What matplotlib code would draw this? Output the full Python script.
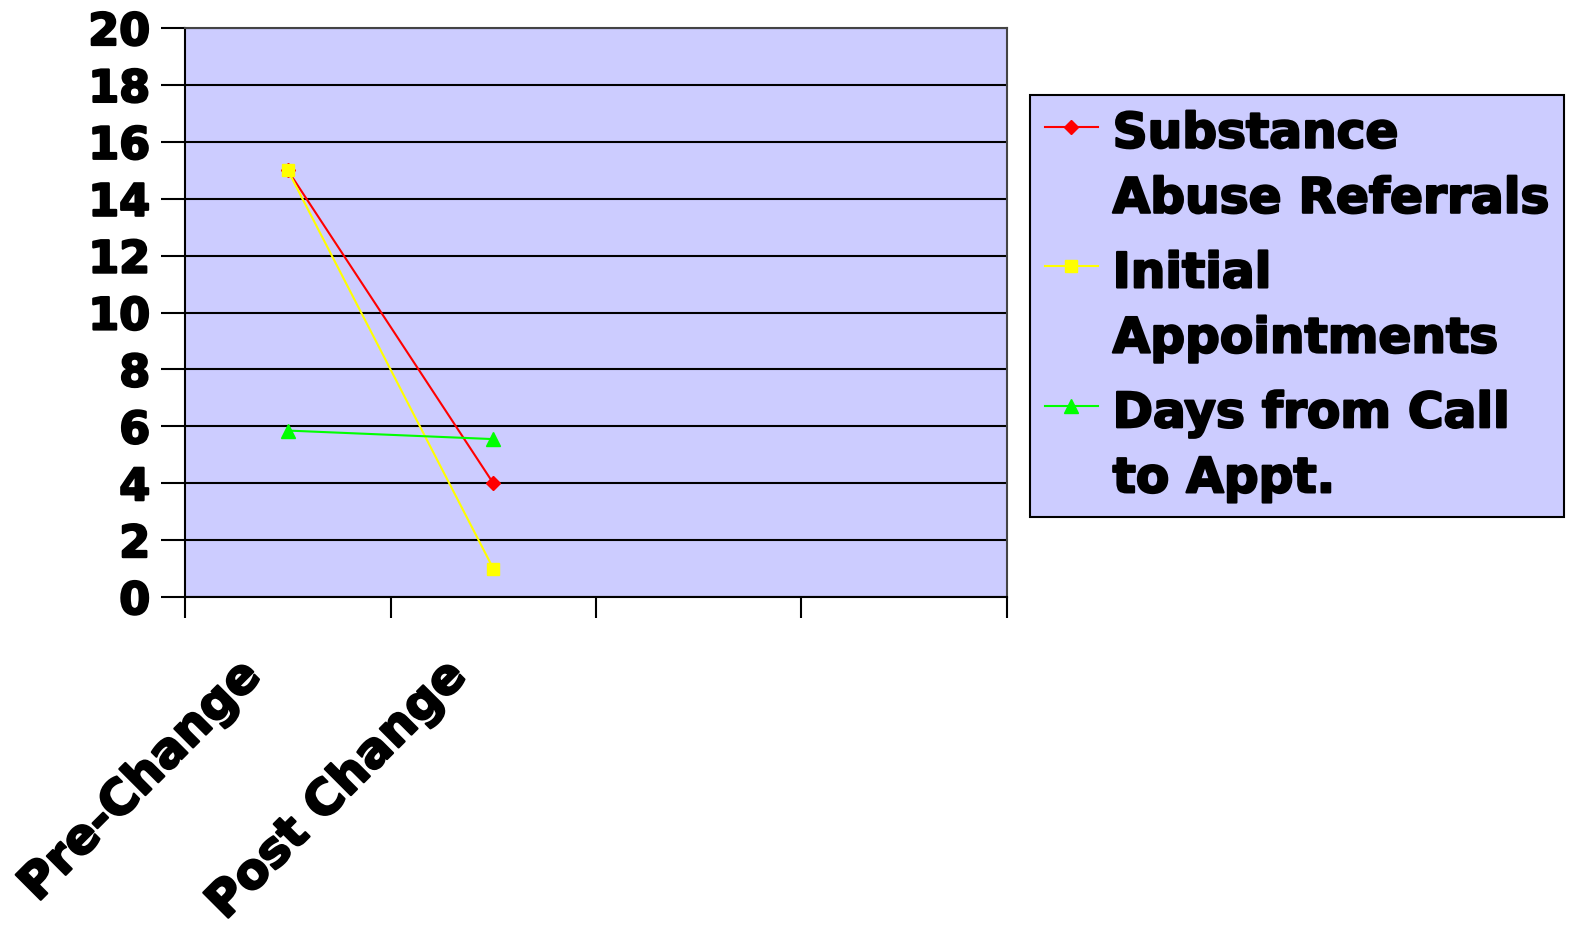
import matplotlib.pyplot as plt
import matplotlib.patheffects as pe
from matplotlib.ticker import FixedLocator
from matplotlib.transforms import ScaledTranslation

categories = ["Pre-Change", "Post Change"]
n_slots = 4
referrals = [15, 4]
appointments = [15, 1]
days_to_appt = [5.85, 5.55]
y_ticks = list(range(0, 21, 2))

BG = "#CCCCFF"
FONT = "DejaVu Sans"
thick = [pe.withStroke(linewidth=1.6, foreground="black")]

fig = plt.figure(figsize=(15.85, 9.31), dpi=100)
ax = fig.add_axes([185 / 1585, 1 - 597 / 931, (1007 - 185) / 1585, (597 - 28) / 931])
ax.set_facecolor(BG)

xs = [i + 0.5 for i in range(len(categories))]
ax.plot(xs, referrals, color="#FF0000", lw=1.5, marker="D", ms=7,
        label="Substance\nAbuse Referrals")
ax.plot(xs, appointments, color="#FFFF00", lw=1.5, marker="s", ms=9,
        label="Initial\nAppointments")
ax.plot(xs, days_to_appt, color="#00FF00", lw=1.5, marker="^", ms=10,
        label="Days from Call\nto Appt.")

ax.set_xlim(0, n_slots)
ax.set_ylim(0, 20)
ax.set_yticks(y_ticks)
ax.set_yticklabels([str(v) for v in y_ticks], fontsize=32, fontweight="heavy", family=FONT)
ax.yaxis.grid(True, color="black", lw=1.5)
ax.set_axisbelow(True)

ax.xaxis.set_major_locator(FixedLocator(range(n_slots + 1)))
ax.set_xticklabels([])
ax.tick_params(axis="x", which="major", length=15, width=1.5, direction="out")
ax.tick_params(axis="y", length=17, width=1.5, direction="out", pad=8)

# category labels, rotated, hanging below the axis
shift = ScaledTranslation(-35 / 100, -71 / 100, fig.dpi_scale_trans)
for x, cat in zip(xs, categories):
    ax.text(x, 0, cat, transform=ax.get_xaxis_transform() + shift,
            rotation=45, ha="right", va="center", rotation_mode="anchor",
            fontsize=35, fontweight="heavy", family=FONT, path_effects=thick,
            clip_on=False)

for lab in ax.get_yticklabels():
    lab.set_path_effects(thick)

for side in ["left", "bottom"]:
    ax.spines[side].set_color("black")
    ax.spines[side].set_linewidth(1.5)
for side in ["top", "right"]:
    ax.spines[side].set_color("#444444")
    ax.spines[side].set_linewidth(1.5)

leg = fig.legend(loc="upper left", bbox_to_anchor=(1030 / 1585, 1 - 95 / 931),
                 prop={"family": FONT, "weight": "heavy", "size": 35},
                 frameon=True, fancybox=False, facecolor=BG, edgecolor="black",
                 handlelength=1.1, handletextpad=0.3, labelspacing=0.55,
                 borderpad=0.3, borderaxespad=0)
leg.get_frame().set_linewidth(1.5)
leg.get_frame().set_alpha(1)
for t in leg.get_texts():
    t.set_linespacing(1.45)
    t.set_path_effects(thick)
# put each handle next to the first line of its label
for col in leg._legend_handle_box.get_children():
    for row in col.get_children():
        row.align = "top"

fig.savefig("out.png", dpi=100)
